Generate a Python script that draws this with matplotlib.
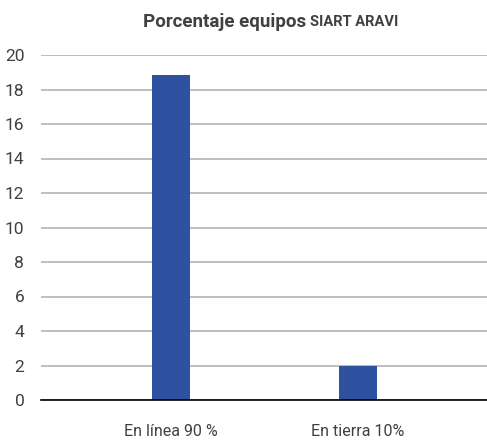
import matplotlib
matplotlib.use("Agg")
import matplotlib.pyplot as plt

categories = ["En línea 90 %", "En tierra 10%"]
values = [18.85, 2.0]
yticks = [0, 2, 4, 6, 8, 10, 12, 14, 16, 18, 20]

plt.rcParams['font.family'] = ['Roboto', 'DejaVu Sans']

fig = plt.figure(figsize=(4.87, 4.41), dpi=100)
ax = fig.add_axes([41/487, 41/441, 446/487, 345/441])

x = list(range(len(categories)))
ax.bar(x, values, width=0.2, color='#2e52a0', zorder=3)

ax.set_xlim(-0.695, 1.69)
ax.set_ylim(0, 20)
ax.set_yticks(yticks)
ax.set_xticks(x)
ax.set_xticklabels(categories)
ax.yaxis.grid(True, color='#b3b3b3', linewidth=1.2, zorder=0)

for s in ['top', 'right', 'left']:
    ax.spines[s].set_visible(False)
ax.spines['bottom'].set_color('black')
ax.spines['bottom'].set_linewidth(1.2)
ax.spines['bottom'].set_zorder(4)

ax.tick_params(axis='y', length=0, labelsize=12.5, labelcolor='#404040', pad=12)
ax.tick_params(axis='x', length=0, labelsize=11.5, labelcolor='#404040', pad=17)

#title in two parts, centred together
t1 = fig.text(0, 1 - 22/441, "Porcentaje equipos", ha='left', va='center',
              fontsize=13.5, fontweight='bold', color='#404040')
t2 = fig.text(0, 1 - 22/441, "SIART ARAVI", ha='left', va='center',
              fontsize=10.5, fontweight='bold', color='#404040')
r = fig.canvas.get_renderer()
w1 = t1.get_window_extent(r).width
w2 = t2.get_window_extent(r).width
gap = 4
left = 271 - (w1 + gap + w2) / 2
t1.set_x(left / 487)
t2.set_x((left + w1 + gap) / 487)

fig.savefig("out.png", dpi=100)
